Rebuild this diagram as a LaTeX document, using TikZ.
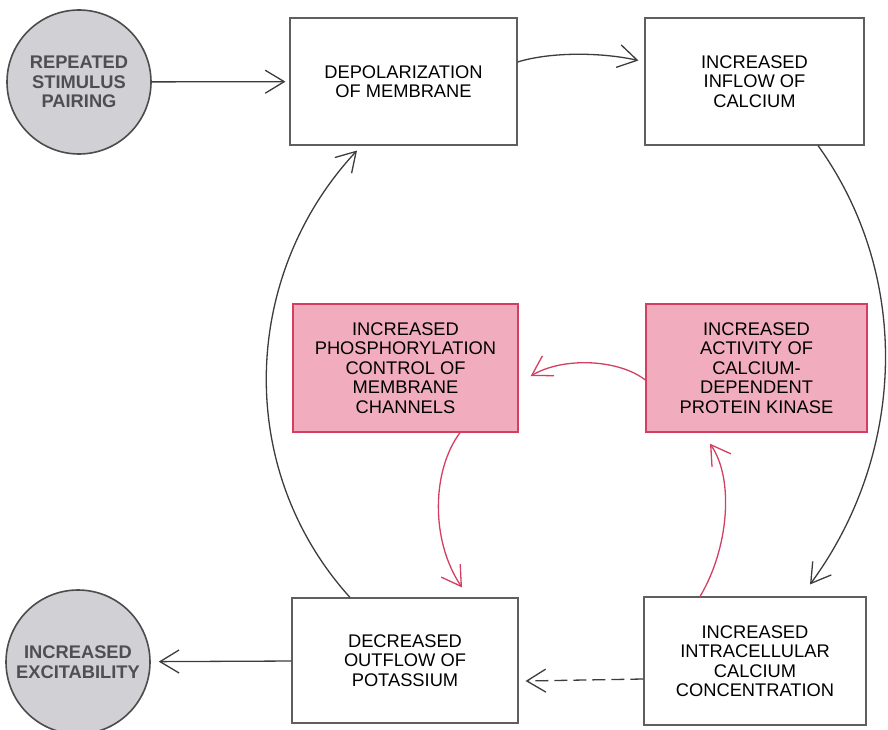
\documentclass[tikz,border=0pt]{standalone}
\usepackage{fontspec}
\setmainfont{Liberation Sans}
\usetikzlibrary{arrows.meta,calc}

\definecolor{boxline}{RGB}{95,95,95}
\definecolor{pinkfill}{RGB}{241,172,190}
\definecolor{redline}{RGB}{212,62,96}
\definecolor{discfill}{RGB}{208,208,213}
\definecolor{disctext}{RGB}{78,78,84}
\definecolor{arrline}{RGB}{60,60,60}

\tikzset{
  stepbox/.style={draw=boxline, line width=1.1pt, fill=white, rectangle,
    inner sep=0pt, align=center, text=black,
    font=\fontsize{18.3}{19.5}\selectfont},
  enzbox/.style={stepbox, draw=redline, fill=pinkfill, line width=1.4pt},
  disc/.style={circle, draw=black!70, line width=1.6pt, fill=discfill,
    minimum size=144pt, inner sep=0pt, align=center, text=disctext,
    font=\fontsize{18.3}{19.5}\selectfont\bfseries},
  arr/.style={draw=arrline, line width=1.3pt,
    -{Straight Barb[length=19pt,width=23pt,line width=1.3pt]}},
  redarr/.style={arr, draw=redline}
}

\begin{document}
\begin{tikzpicture}[x=1pt,y=-1pt]
\useasboundingbox (0,0) rectangle (888,730);

% outer ring of events
\node[stepbox, minimum width=227pt, minimum height=127pt] (depol) at (403.5,81.5)
  {DEPOLARIZATION\\OF MEMBRANE};
\node[stepbox, minimum width=219pt, minimum height=127pt] (inflow) at (754.5,81.5)
  {INCREASED\\INFLOW OF\\CALCIUM};
\node[stepbox, minimum width=226pt, minimum height=125pt] (decr) at (405,660.5)
  {DECREASED\\OUTFLOW OF\\POTASSIUM};
\node[stepbox, minimum width=222pt, minimum height=128pt] (intra) at (755,661)
  {INCREASED\\INTRACELLULAR\\CALCIUM\\CONCENTRATION};

% enzyme steps
\node[enzbox, minimum width=225pt, minimum height=128pt] (phos) at (405.5,368)
  {INCREASED\\PHOSPHORYLATION\\CONTROL OF\\MEMBRANE\\CHANNELS};
\node[enzbox, minimum width=221pt, minimum height=128pt] (kinase) at (756.5,368)
  {INCREASED\\ACTIVITY OF\\CALCIUM-\\DEPENDENT\\PROTEIN KINASE};

% input and output
\node[disc] (rep) at (79,82) {REPEATED\\STIMULUS\\PAIRING};
\node[disc] (exc) at (78,662) {INCREASED\\EXCITABILITY};

% connectors of the outer ring
\draw[arr, shorten >=4pt] (rep) -- (depol);
\draw[arr] ($(depol.east)+(0,-19.5)$) .. controls (550,52) and (600,52)
  .. ($(inflow.west)+(-6,-21)$);
\draw[arr] ($(inflow.south)+(63.5,0)$) .. controls (913,278) and (905,455)
  .. ($(intra.north)+(55,-12)$);
\draw[arr, dash pattern=on 13pt off 6pt] ($(intra.west)+(0,18)$)
  -- ($(decr.east)+(7,20.5)$);
\draw[arr] ($(decr.north)+(-55,0)$) .. controls (234,469) and (241,275)
  .. ($(depol.south)+(-46.5,5)$);
\draw[arr, shorten >=8pt] (decr) -- (exc);

% enzyme pathway
\draw[redarr] ($(intra.north)+(-55,0)$) .. controls (728,550) and (735,480)
  .. ($(kinase.south)+(-46.5,11)$);
\draw[redarr] ($(kinase.west)+(0,12)$) .. controls (620,360) and (565,356)
  .. ($(phos.east)+(12,8)$);
\draw[redarr] ($(phos.south)+(54.5,0)$) .. controls (432,470) and (430,540)
  .. ($(decr.north)+(57,-10)$);
\end{tikzpicture}
\end{document}
